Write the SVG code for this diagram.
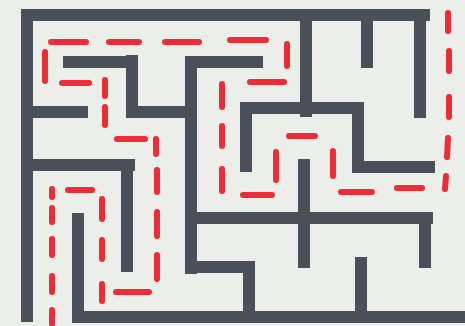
<svg xmlns="http://www.w3.org/2000/svg" width="465" height="326" viewBox="0 0 465 326">
<style>
.wall{fill:none;stroke:#4a5059;stroke-width:12;stroke-linecap:butt;stroke-linejoin:miter}
.path{fill:none;stroke:#ec1c27;stroke-width:6;stroke-linecap:round;opacity:0.92}
</style>
<rect width="465" height="326" fill="#eceee9"/>
<g id="walls" class="wall">
<path d="M21 15 H430"/>
<path d="M27 9 V322"/>
<path d="M27 112 H88"/>
<path d="M63 62 H138"/>
<path d="M132 55 V112 H191"/>
<path d="M191 62 H263"/>
<path d="M191 56 V274"/>
<path d="M27 165 H135"/>
<path d="M127 165 V272"/>
<path d="M78 213 V317 H465"/>
<path d="M191 218 H433"/>
<path d="M425 218 V268"/>
<path d="M191 267 H249 V317"/>
<path d="M361 257 V317"/>
<path d="M306 15 V117"/>
<path d="M367 15 V68"/>
<path d="M420 15 V118"/>
<path d="M246 172 V108 H358 V167 H435"/>
<path d="M304 159 V268"/>
</g>
<g id="solution" class="path">
<path d="M52 310 V324 M52 276 V292 M52 239 V255 M52 208 V222 M52 189 V197"/>
<path d="M68 190 H92"/>
<path d="M102 199 V219 M102 240 V259 M102 284 V301"/>
<path d="M116 292 H149"/>
<path d="M157 279 V255 M157 236 V212 M157 192 V170 M156 154 V139"/>
<path d="M145 139 H117"/>
<path d="M105 125 V107 M105 96 V80"/>
<path d="M89 83 H62"/>
<path d="M45 81 V52"/>
<path d="M51 42 H86 M109 42 H139 M165 42 H199 M230 40 H266"/>
<path d="M287 44 V66"/>
<path d="M284 82 H250"/>
<path d="M222 84 V107 M222 126 V146 M222 169 V191"/>
<path d="M243 195 H272"/>
<path d="M276 180 V152"/>
<path d="M289 136 H315"/>
<path d="M333 151 V176"/>
<path d="M341 192 H372"/>
<path d="M397 188 H422"/>
<path d="M445 189 L446 176 M447 157 L448 138 M449 117 V97 M449 71 V51 M448 31 V13"/>
</g>
</svg>
